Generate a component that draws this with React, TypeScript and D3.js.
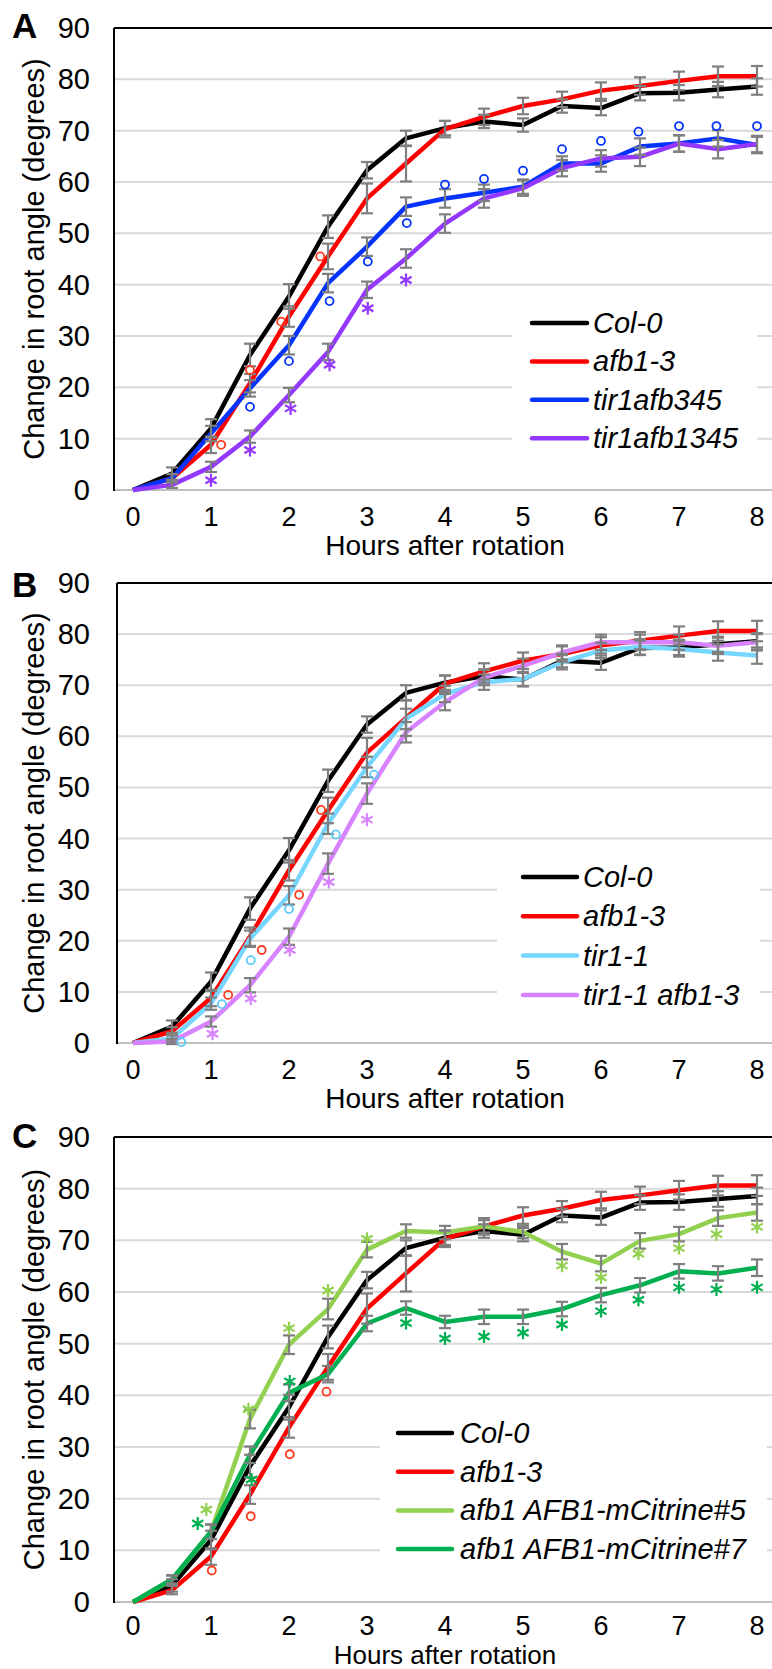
import React from "react";
import * as d3 from "d3";

// hours after rotation (x categories)
const hours = [0, 0.5, 1, 1.5, 2, 2.5, 3, 3.5, 4, 4.5, 5, 5.5, 6, 6.5, 7, 7.5, 8];
const yTicks = [0, 10, 20, 30, 40, 50, 60, 70, 80, 90];
const xTicks = [0, 1, 2, 3, 4, 5, 6, 7, 8];

// series means (degrees)
const col0 = [0, 3.2, 12, 26.3, 37.7, 51.3, 62.3, 68.5, 70.5, 71.8, 71.1, 74.8, 74.4, 77.3, 77.4, 78, 78.6];
const afb13 = [0, 2.3, 8.8, 20.8, 33.8, 45.5, 56.8, 63.6, 70.3, 72.7, 74.8, 76.1, 77.8, 78.7, 79.7, 80.6, 80.6];
const tir1afb345 = [0, 2.3, 11, 19.8, 28.2, 40.3, 47.4, 55.2, 56.8, 57.9, 59.1, 63.6, 63.6, 66.9, 67.5, 68.5, 67.2];
const tir1afb1345 = [0, 1, 4.5, 10.4, 18.5, 26.9, 39, 45.1, 51.9, 56.8, 58.8, 62.7, 64.6, 64.9, 67.5, 66.4, 67.4];
const tir11 = [0, 0.9, 7.7, 20.4, 28.9, 42.9, 54, 63.4, 68.3, 70.6, 71.2, 74.5, 76.8, 77.5, 77.1, 76.4, 75.8];
const tir11afb13 = [0, 0.3, 4.2, 11.3, 20.8, 35.1, 48.8, 60.8, 66.7, 71.5, 73.8, 76.4, 78.4, 78.4, 78.4, 77.7, 78.4];
const citrine5 = [0, 4.3, 13.6, 35.4, 49.8, 56.7, 68.2, 71.8, 71.5, 72.7, 71.6, 67.8, 65.5, 69.9, 71.2, 74.3, 75.4];
const citrine7 = [0, 4.4, 13.6, 28.5, 40.5, 44.1, 53.9, 56.9, 54.2, 55.2, 55.2, 56.7, 59.4, 61.3, 64, 63.6, 64.7];

// error bars (+/-)
const col0Err = [0, 1.2, 1.8, 2.2, 2.4, 2.2, 1.6, 1.5, 1.4, 1.3, 1.3, 1.3, 1.4, 1.4, 1.5, 1.5, 1.6];
const afb13Err = [0, 0.8, 1.6, 1.8, 2.0, 2.5, 2.9, 3.5, 1.6, 1.6, 1.6, 1.5, 1.6, 1.7, 1.8, 1.9, 2.0];
const tir1afb345Err = [0, 0.8, 1.5, 1.6, 1.8, 1.8, 1.8, 1.8, 1.8, 1.6, 1.4, 1.4, 1.6, 1.6, 1.6, 1.6, 1.6];
const tir1afb1345Err = [0, 0.6, 1.0, 1.2, 1.4, 1.6, 1.6, 1.8, 1.8, 1.8, 1.5, 1.6, 1.6, 1.8, 1.6, 1.8, 1.6];
const tir11Err = [0, 0.6, 1.2, 1.6, 1.8, 2, 2, 2, 1.6, 1.5, 1.4, 1.4, 1.5, 1.5, 1.5, 1.6, 1.6];
const tir11afb13Err = [0, 0.5, 1.0, 1.4, 1.6, 2, 2, 2, 1.6, 1.5, 1.4, 1.4, 1.5, 1.5, 1.5, 1.6, 1.6];
const citrine5Err = [0, 0.8, 1.4, 1.8, 1.8, 2, 1.5, 1.3, 1.3, 1.2, 1.2, 1.5, 1.5, 1.5, 1.4, 1.5, 1.6];
const citrine7Err = [0, 0.8, 1.4, 1.6, 1.6, 1.6, 1.5, 1.3, 1.2, 1.4, 1.4, 1.4, 1.4, 1.4, 1.4, 1.4, 1.6];

// significance marks [hour, value]
const aRedCircles = [[1.13, 8.8], [1.5, 23.4], [1.9, 32.8], [2.4, 45.5]];
const aBlueCircles = [[1.5, 16.2], [2, 25.1], [2.52, 36.8], [3.01, 44.5], [3.51, 52], [4, 59.5], [4.5, 60.6], [5, 62.2], [5.5, 66.4], [6, 68], [6.48, 69.8], [7, 70.9], [7.48, 70.9], [8, 70.9]];
const aPurpleStars = [[1, 1.9], [1.5, 7.8], [2.02, 15.9], [2.52, 24.4], [3.01, 35.4], [3.5, 40.9]];
const bRedCircles = [[1.22, 9.4], [1.65, 18.2], [2.13, 29], [2.41, 45.6]];
const bBlueCircles = [[0.62, 0.2], [1.14, 7.6], [1.51, 16.2], [2, 26.2], [2.6, 40.8], [3.09, 52.5]];
const bLilacStars = [[1.02, 1.8], [1.51, 8.7], [2.01, 18.2], [2.51, 31.5], [3, 43.7]];
const cRedCircles = [[1.01, 6.1], [1.51, 16.6], [2.01, 28.6], [2.48, 40.7]];
const cLightStars = [[0.94, 17.9], [1.48, 37.3], [2, 53], [2.5, 60.3], [3, 70.3], [5.5, 65.1], [6, 62.8], [6.48, 67.4], [7, 68.5], [7.48, 71.2], [8, 72.6]];
const cGreenStars = [[0.83, 15.2], [1.52, 23.7], [2.01, 42.7], [3.5, 54], [4, 51], [4.5, 51.4], [5, 52.1], [5.5, 53.7], [6, 56.3], [6.48, 58.5], [7, 60.9], [7.48, 60.5], [8, 60.9]];

const FONT = "'Liberation Sans', Arial, Helvetica, sans-serif";
const GRAY = "#7f7f7f";

const panels = [
  {
    label: "A", top: 28, zero: 490, left: 114, labelY: 38,
    series: [
      { name: "Col-0", values: col0, err: col0Err, color: "#000000" },
      { name: "afb1-3", values: afb13, err: afb13Err, color: "#ff0000" },
      { name: "tir1afb345", values: tir1afb345, err: tir1afb345Err, color: "#0433ff" },
      { name: "tir1afb1345", values: tir1afb1345, err: tir1afb1345Err, color: "#9437ff" },
    ],
    circles: [{ pts: aRedCircles, color: "#ff3b1f" }, { pts: aBlueCircles, color: "#0433ff" }],
    stars: [{ pts: aPurpleStars, color: "#9437ff" }],
    legend: { x1: 532, x2: 587, tx: 593, y0: 323, step: 38.4, box: [512, 295, 245, 183] },
  },
  {
    label: "B", top: 583, zero: 1043, left: 117, labelY: 597,
    series: [
      { name: "Col-0", values: col0, err: col0Err, color: "#000000" },
      { name: "afb1-3", values: afb13, err: afb13Err, color: "#ff0000" },
      { name: "tir1-1", values: tir11, err: tir11Err, color: "#76d6ff" },
      { name: "tir1-1 afb1-3", values: tir11afb13, err: tir11afb13Err, color: "#d783ff" },
    ],
    circles: [{ pts: bRedCircles, color: "#ff3b1f" }, { pts: bBlueCircles, color: "#5ccbf5" }],
    stars: [{ pts: bLilacStars, color: "#d783ff" }],
    legend: { x1: 523, x2: 577, tx: 583, y0: 877, step: 39.3, box: [497, 850, 263, 182] },
  },
  {
    label: "C", top: 1137, zero: 1602, left: 114, labelY: 1148,
    series: [
      { name: "Col-0", values: col0, err: col0Err, color: "#000000" },
      { name: "afb1-3", values: afb13, err: afb13Err, color: "#ff0000" },
      { name: "afb1 AFB1-mCitrine#5", values: citrine5, err: citrine5Err, color: "#92d050" },
      { name: "afb1 AFB1-mCitrine#7", values: citrine7, err: citrine7Err, color: "#00b050" },
    ],
    circles: [{ pts: cRedCircles, color: "#ff3b1f" }],
    stars: [{ pts: cLightStars, color: "#92d050" }, { pts: cGreenStars, color: "#00b050" }],
    legend: { x1: 398, x2: 452, tx: 460, y0: 1433, step: 38.7, box: [380, 1405, 387, 182] },
  },
];

const x = d3.scaleLinear().domain([0, 8]).range([133, 757]);

function Star({ cx, cy, color }) {
  const r = 6.5;
  const dx = r * Math.cos(Math.PI / 6);
  const dy = r * Math.sin(Math.PI / 6);
  return (
    <path
      d={`M${cx},${cy - r}L${cx},${cy + r}M${cx - dx},${cy - dy}L${cx + dx},${cy + dy}M${cx - dx},${cy + dy}L${cx + dx},${cy - dy}`}
      stroke={color}
      strokeWidth={2.2}
      fill="none"
    />
  );
}

function Panel({ p }) {
  const y = d3.scaleLinear().domain([0, 90]).range([p.zero, p.top]);
  const line = d3
    .line<number>()
    .x((_, i) => x(hours[i]))
    .y((d) => y(d));
  const mid = (p.top + p.zero) / 2;
  const lg = p.legend;
  // the bottom panel has little room left under it, so tighten its axis text
  const tight = p.zero + 65 > 1660;
  const tickY = tight ? p.zero + 33 : p.zero + 36;
  const titleY = tight ? 1664 : p.zero + 65;
  const titleSize = tight ? 26 : 28;
  return (
    <g>
      {yTicks.filter((t) => t > 0 && t < 90).map((t) => (
        <line key={t} x1={p.left} x2={772} y1={y(t)} y2={y(t)} stroke="#d9d9d9" strokeWidth={2} />
      ))}
      <rect x={lg.box[0]} y={lg.box[1]} width={lg.box[2]} height={lg.box[3]} fill="#ffffff" />
      <line x1={p.left} x2={772} y1={p.zero} y2={p.zero} stroke="#bfbfbf" strokeWidth={2} />
      <line x1={p.left} x2={772} y1={p.top} y2={p.top} stroke="#000" strokeWidth={2} />
      <line x1={p.left} x2={p.left} y1={p.top} y2={p.zero + 1} stroke="#000" strokeWidth={2} />

      {p.series.map((s) => (
        <path key={s.name} d={line(s.values)} fill="none" stroke={s.color} strokeWidth={4.5} strokeLinejoin="round" />
      ))}
      {p.series.map((s) =>
        s.values.map((v, i) =>
          s.err[i] > 0 ? (
            <g key={s.name + i} stroke={GRAY} strokeWidth={2.2}>
              <line x1={x(hours[i])} x2={x(hours[i])} y1={y(v - s.err[i])} y2={y(v + s.err[i])} />
              <line x1={x(hours[i]) - 6} x2={x(hours[i]) + 6} y1={y(v - s.err[i])} y2={y(v - s.err[i])} />
              <line x1={x(hours[i]) - 6} x2={x(hours[i]) + 6} y1={y(v + s.err[i])} y2={y(v + s.err[i])} />
            </g>
          ) : null
        )
      )}
      {p.circles.map((c, k) =>
        c.pts.map((d, i) => (
          <circle key={`c${k}-${i}`} cx={x(d[0])} cy={y(d[1])} r={4} fill="none" stroke={c.color} strokeWidth={1.8} />
        ))
      )}
      {p.stars.map((c, k) =>
        c.pts.map((d, i) => <Star key={`s${k}-${i}`} cx={x(d[0])} cy={y(d[1])} color={c.color} />)
      )}

      {p.series.map((s, i) => (
        <g key={"lg" + s.name}>
          <line x1={lg.x1} x2={lg.x2} y1={lg.y0 + i * lg.step} y2={lg.y0 + i * lg.step} stroke={s.color} strokeWidth={4.5} strokeLinecap="round" />
          <text x={lg.tx} y={lg.y0 + i * lg.step + 10} fontSize={29} fontStyle="italic" fontFamily={FONT}>
            {s.name}
          </text>
        </g>
      ))}

      {yTicks.map((t) => (
        <text key={"yt" + t} x={90} y={y(t) + 10} textAnchor="end" fontSize={29} fontFamily={FONT}>
          {t}
        </text>
      ))}
      {xTicks.map((t) => (
        <text key={"xt" + t} x={x(t)} y={tickY} textAnchor="middle" fontSize={27} fontFamily={FONT}>
          {t}
        </text>
      ))}
      <text x={x(4)} y={titleY} textAnchor="middle" fontSize={titleSize} fontFamily={FONT}>
        Hours after rotation
      </text>
      <text transform={`translate(44,${mid}) rotate(-90)`} textAnchor="middle" fontSize={29} fontFamily={FONT}>
        Change in root angle (degrees)
      </text>
      <text x={12} y={p.labelY} fontSize={35} fontWeight="bold" fontFamily={FONT}>
        {p.label}
      </text>
    </g>
  );
}

export default function App() {
  return (
    <svg
      width={772}
      height={1669}
      style={{ position: "absolute", left: 0, top: 0, background: "#fff" }}
    >
      <rect width={772} height={1669} fill="#fff" />
      {panels.map((p) => (
        <Panel key={p.label} p={p} />
      ))}
    </svg>
  );
}
